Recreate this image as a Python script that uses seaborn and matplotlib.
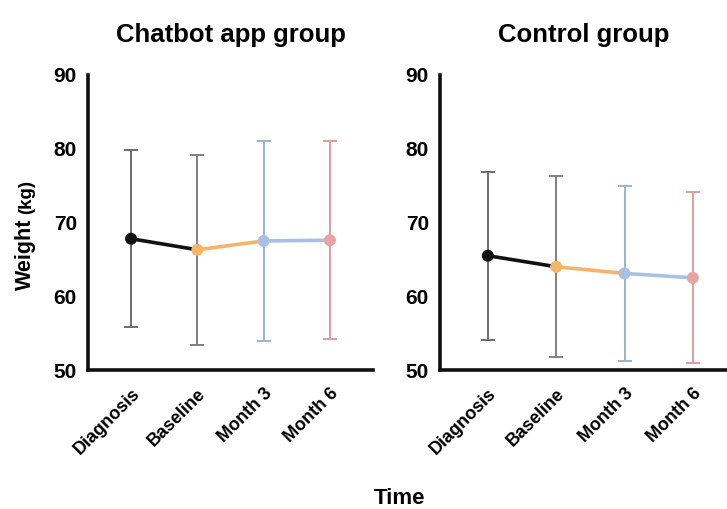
import numpy as np
import pandas as pd
import seaborn as sns
import matplotlib.pyplot as plt

times = ['Diagnosis', 'Baseline', 'Month 3', 'Month 6']
groups = ['Chatbot app group', 'Control group']

# mean weight and SD
chatbot_mean = [67.8, 66.3, 67.5, 67.6]
chatbot_sd = [12.0, 12.9, 13.5, 13.4]
control_mean = [65.5, 64.0, 63.1, 62.5]
control_sd = [11.4, 12.3, 11.9, 11.6]

point_colors = ['#111111', '#F2B56A', '#A9C0E2', '#E8A3A3']
bar_colors = ['#6E6E6E', '#808080', '#9CB2D2', '#DE9C9C']

sns.set_style('white')
plt.rcParams['font.family'] = ['Liberation Sans', 'DejaVu Sans']
plt.rcParams['font.weight'] = 'bold'
plt.rcParams['text.color'] = 'black'
plt.rcParams['xtick.color'] = 'black'
plt.rcParams['ytick.color'] = 'black'

fig = plt.figure(figsize=(7.27, 5.09), dpi=100)
ax1 = fig.add_axes([88 / 727, 1 - 370 / 509, 285 / 727, 295 / 509])
ax2 = fig.add_axes([440 / 727, 1 - 370 / 509, 287 / 727, 295 / 509])

data = {'Chatbot app group': (chatbot_mean, chatbot_sd),
        'Control group': (control_mean, control_sd)}

for ax, g, xlim in zip([ax1, ax2], groups, [(-0.65, 3.65), (-0.7, 3.5)]):
    mean, sd = data[g]
    df = pd.DataFrame({'x': range(len(times)), 'time': times, 'mean': mean, 'sd': sd})

    # error bars first, behind the line
    for i, row in df.iterrows():
        ax.errorbar(row['x'], row['mean'], yerr=row['sd'], color=bar_colors[i],
                    capsize=5, elinewidth=1.4, capthick=1.4, zorder=2, fmt='none')

    # each segment gets the colour of its starting point
    for i in range(len(times) - 1):
        seg = df.iloc[i:i + 2]
        sns.lineplot(data=seg, x='x', y='mean', color=point_colors[i], lw=2.6,
                     ax=ax, zorder=3, legend=False)

    sns.scatterplot(data=df, x='x', y='mean', hue='time', palette=point_colors,
                    s=75, edgecolor='none', ax=ax, zorder=4, legend=False)

    ax.set_xlim(*xlim)
    ax.set_ylim(50, 90)
    ax.set_yticks([50, 60, 70, 80, 90])
    ax.set_xticks(range(len(times)))
    ax.set_xticklabels(times, rotation=45, ha='right', rotation_mode='anchor',
                       fontsize=13, fontweight='bold', color='black')
    ax.tick_params(axis='y', labelsize=15, length=7, width=2, direction='out', pad=1)
    ax.tick_params(axis='x', length=7, width=2, direction='out', pad=4)
    for lab in ax.get_yticklabels():
        lab.set_fontweight('bold')
    ax.set_xlabel('')
    ax.set_ylabel('')
    ax.set_title(g, fontsize=18.5, fontweight='bold', pad=24, color='black')
    sns.despine(ax=ax)
    for sp in ['left', 'bottom']:
        ax.spines[sp].set_linewidth(2.6)
        ax.spines[sp].set_color('#111111')
    ax.set_facecolor('white')

fig.text(31 / 727, 1 - 290 / 509, 'Weight', rotation=90, rotation_mode='anchor',
         ha='left', va='baseline', fontsize=15.5, fontweight='bold')
fig.text(31 / 727, 1 - 214 / 509, '(kg)', rotation=90, rotation_mode='anchor',
         ha='left', va='baseline', fontsize=13.5, fontweight='bold')
fig.text(399 / 727, 1 - 499 / 509, 'Time', ha='center', va='center',
         fontsize=16, fontweight='bold')

fig.savefig('out.png', dpi=100, facecolor='white')
